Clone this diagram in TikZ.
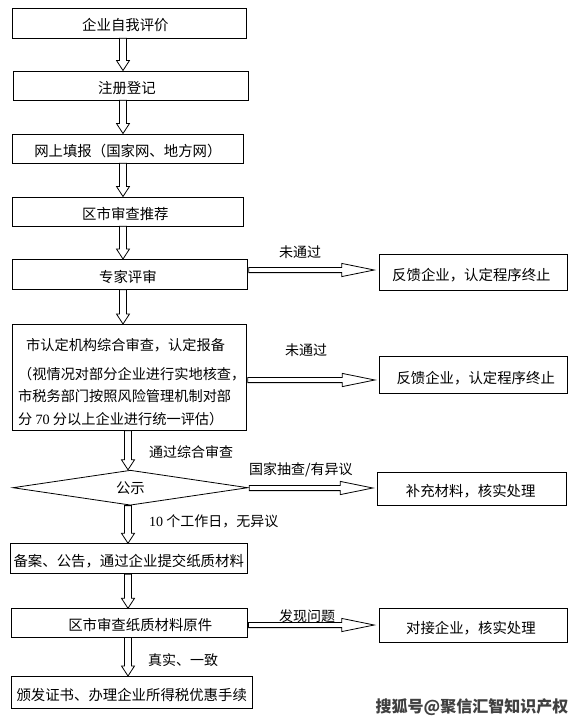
\documentclass[tikz,border=0pt]{standalone}
\usepackage{fontspec}
\setmainfont{Noto Sans CJK SC}
\newfontfamily\lat{Liberation Serif}
\usetikzlibrary{shapes.geometric,calc}
\tikzset{
  box/.style={draw, line width=0.8pt, rectangle, anchor=north west, inner sep=0pt,
    font=\fontsize{14.4}{17}\selectfont, text height=16pt, text depth=0pt},
  lbl/.style={inner sep=0pt, font=\fontsize{14}{17}\selectfont},
  blk/.style={draw, line width=0.8pt, fill=white, line join=miter},
}
\newcommand\vArrow[3]{\draw[blk] let \p1=(#1.south -| #3), \p2=(#2.north -| #3) in
  (\x1-3.5pt,\y1) -- (\x1-3.5pt,\y2+10pt) -- (\x1-6.5pt,\y2+10pt) -- (\x1,\y2)
  -- (\x1+6.5pt,\y2+10pt) -- (\x1+3.5pt,\y2+10pt) -- (\x1+3.5pt,\y1) -- cycle;}
\newcommand\hArrow[3]{\draw[blk] let \p1=(#1.east |- #3), \p2=(#2.west |- #3) in
  (\x1+1pt,\y1+2.6pt) -- (\x2-37pt,\y1+2.6pt) -- (\x2-37pt,\y1+6.6pt) -- (\x2-4.5pt,\y1)
  -- (\x2-37pt,\y1-6.6pt) -- (\x2-37pt,\y1-2.6pt) -- (\x1+1pt,\y1-2.6pt) -- cycle;}
\begin{document}
\begin{tikzpicture}[x=1pt,y=-1pt]
\useasboundingbox[fill=white] (0,0) rectangle (578,724);
% axes for connectors
\coordinate (ax1) at (123,0);
\coordinate (ax2) at (128,0);
\coordinate (hy1) at (0,270);
\coordinate (hy2) at (0,380);
\coordinate (hy3) at (0,488);
\coordinate (hy4) at (0,625);
% main column
\node[box, minimum width=234pt, minimum height=30pt] (b1) at (12,7.5) {\hspace*{-8pt}企业自我评价};
\node[box, minimum width=235pt, minimum height=29pt] (b2) at (13,70.5) {\hspace*{-8pt}注册登记};
\node[box, minimum width=231pt, minimum height=29pt] (b3) at (12,133.5) {网上填报（国家网、地方网）};
\node[box, minimum width=231pt, minimum height=29pt] (b4) at (12,196.5) {\hspace*{-5pt}区市审查推荐};
\node[box, minimum width=235pt, minimum height=30pt] (b5) at (12,259) {\hspace*{-4pt}专家评审};
\node[box, minimum width=234pt, minimum height=106pt] (b6) at (12,324) {};
\node[anchor=north west, inner sep=0pt, align=left, font=\fontsize{14.2}{22.5}\selectfont] (t6) at (18,338)
  {\hspace*{8pt}市认定机构综合审查，认定报备\\[6.5pt]（视情况对部分企业进行实地核查，\\市税务部门按照风险管理机制对部\\分 {\lat 70} 分以上企业进行统一评估）};
\node[diamond, draw, line width=0.8pt, minimum width=235pt, minimum height=35pt, aspect=6,
  inner sep=0pt, font=\fontsize{14.4}{17}\selectfont] (d) at (130.4,487.7) {公示};
\node[box, minimum width=236.7pt, minimum height=30pt] (b7) at (10,543.3) {备案、公告，通过企业提交纸质材料};
\node[box, minimum width=235.7pt, minimum height=28.4pt] (b8) at (11,608.3) {\hspace*{22pt}区市审查纸质材料原件};
\node[box, minimum width=240.7pt, minimum height=32.3pt] (b9) at (11,676) {颁发证书、办理企业所得税优惠手续};
% right column
\node[box, minimum width=188.6pt, minimum height=36pt] (r1) at (378.7,254) {\hspace*{-4pt}反馈企业，认定程序终止};
\node[box, minimum width=188pt, minimum height=37.3pt] (r2) at (379.3,356) {\hspace*{4pt}反馈企业，认定程序终止};
\node[box, minimum width=189pt, minimum height=33.3pt] (r3) at (377.3,471.7) {\hspace*{-3pt}补充材料，核实处理};
\node[box, minimum width=188.6pt, minimum height=33.4pt] (r4) at (378.7,608.3) {\hspace*{-5pt}对接企业，核实处理};
% vertical connectors
\vArrow{b1}{b2}{ax1}
\vArrow{b2}{b3}{ax1}
\vArrow{b3}{b4}{ax1}
\vArrow{b4}{b5}{ax1}
\vArrow{b5}{b6}{ax1}
\vArrow{b6}{d}{ax2}
\vArrow{d}{b7}{ax2}
\vArrow{b7}{b8}{ax2}
\vArrow{b8}{b9}{ax2}
% horizontal connectors
\hArrow{b5}{r1}{hy1}
\hArrow{b6}{r2}{hy2}
\hArrow{d}{r3}{hy3}
\hArrow{b8}{r4}{hy4}
% labels
\node[lbl] (l1) at (300,252) {未通过};
\node[lbl] (l2) at (306,350) {未通过};
\node[lbl, anchor=west] (l3) at (149,452) {通过综合审查};
\node[lbl, anchor=west] (l4) at (249,469.5) {国家抽查/有异议};
\node[lbl, anchor=west] (l5) at (149,521.7) {{\lat 10} 个工作日，无异议};
\node[lbl] (l6) at (307,615.7) {发现问题};
\node[lbl, anchor=west] (l7) at (148,660) {真实、一致};
% watermark
\node[inner sep=0pt, font=\fontsize{16}{16}\selectfont\bfseries, text=black!75] (wm) at (472,707) {搜狐号@聚信汇智知识产权};
\end{tikzpicture}
\end{document}
